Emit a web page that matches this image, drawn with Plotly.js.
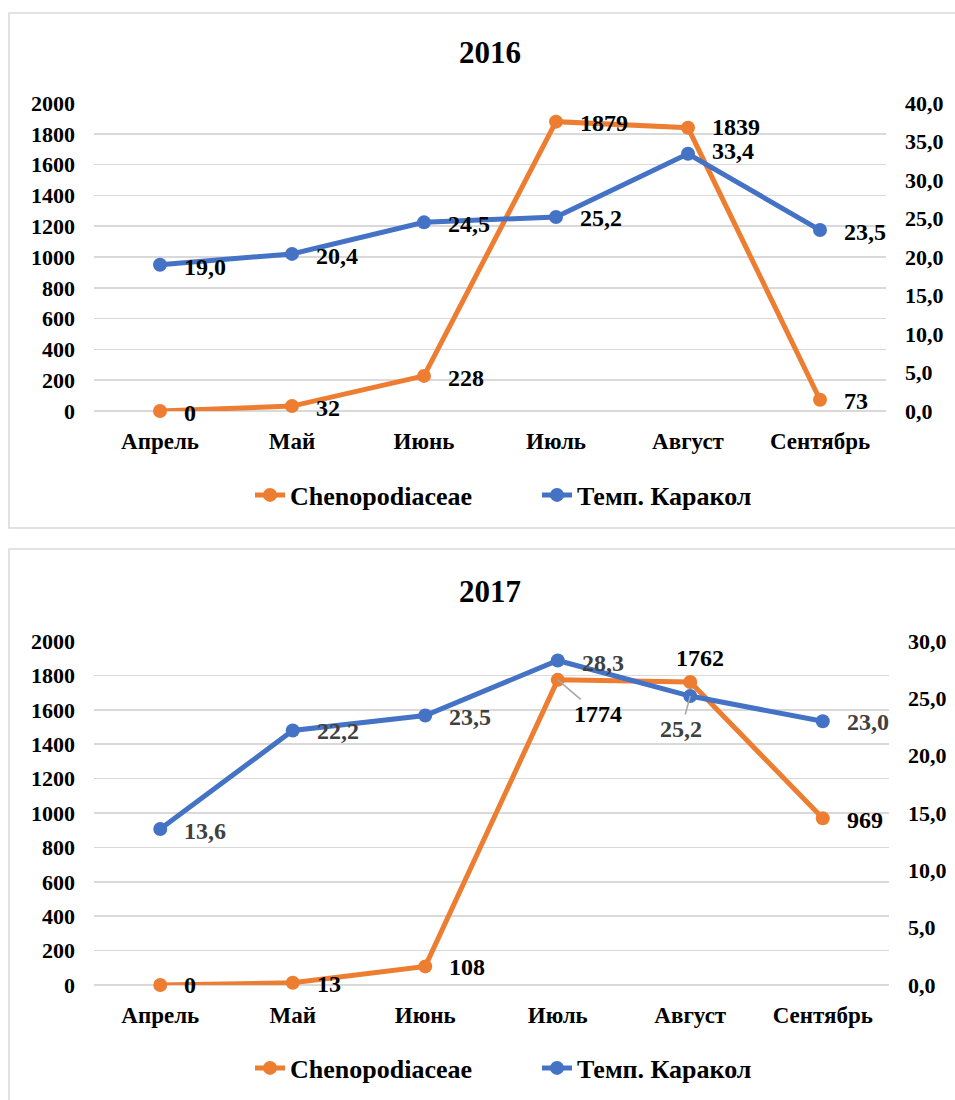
<!DOCTYPE html>
<html>
<head>
<meta charset="utf-8">
<script src="https://cdn.plot.ly/plotly-3.0.1.min.js"></script>
<style>html,body{margin:0;padding:0;background:#fff;}#chart{width:955px;height:1100px;}</style>
</head>
<body>
<div id="chart"></div>
<script>
// ---- data ----
const months = ['Апрель', 'Май', 'Июнь', 'Июль', 'Август', 'Сентябрь'];
const cheno2016 = [0, 32, 228, 1879, 1839, 73];
const temp2016 = [19.0, 20.4, 24.5, 25.2, 33.4, 23.5];
const cheno2017 = [0, 13, 108, 1774, 1762, 969];
const temp2017 = [13.6, 22.2, 23.5, 28.3, 25.2, 23.0];
const seriesNames = ['Chenopodiaceae', 'Темп. Каракол'];
const titles = ['2016', '2017'];

// ---- styles ----
const FONT = 'Liberation Serif';
const ORANGE = '#ED7D31', BLUE = '#4472C4', GRID = '#D9D9D9';
const H = 1100, W = 955;
const py = v => 1 - v / H;
const px = v => v / W;

// label placement (pixel offsets: dx right, dy down)
const R = (dy) => ({mode: 'right', dx: 22, dy: dy});
const place = {
  c16: [R(2), R(2), R(2), R(1), R(-1), R(1)],
  t16: [R(2), R(2), R(2), R(1), R(-3), R(2)],
  c17: [R(0), R(1), R(1), {mode: 'arrow', dx: 40, dy: 34}, {mode: 'center', dx: 10, dy: -24}, R(2)],
  t17: [R(2), R(1), R(1), R(3), {mode: 'arrow', dx: -9, dy: 33}, R(1)]
};

function labels(vals, fmt, xref, yref, color, pl) {
  return vals.map((v, i) => {
    const p = pl[i];
    const a = {x: months[i], y: v, xref: xref, yref: yref, text: fmt(v),
      font: {family: FONT, size: 24, color: color, weight: 'bold'}};
    if (p.mode === 'arrow') {
      Object.assign(a, {showarrow: true, ax: p.dx, ay: p.dy, arrowhead: 0,
        arrowwidth: 1.5, arrowcolor: '#A6A6A6', standoff: 0});
    } else if (p.mode === 'center') {
      Object.assign(a, {showarrow: false, xanchor: 'center', yanchor: 'middle', xshift: p.dx, yshift: -p.dy});
    } else {
      Object.assign(a, {showarrow: false, xanchor: 'left', yanchor: 'middle', xshift: p.dx, yshift: -p.dy});
    }
    return a;
  });
}
const fmtInt = v => String(v);
const fmtDec = v => v.toFixed(1).replace('.', ',');

function trace(y, name, color, xa, ya, legend) {
  return {x: months, y: y, name: name, type: 'scatter', mode: 'lines+markers',
    line: {color: color, width: 5}, marker: {color: color, size: 14},
    xaxis: xa, yaxis: ya, legend: legend, cliponaxis: false, hoverinfo: 'x+y'};
}

const data = [
  trace(cheno2016, seriesNames[0], ORANGE, 'x', 'y', 'legend'),
  trace(temp2016, seriesNames[1], BLUE, 'x', 'y2', 'legend'),
  trace(cheno2017, seriesNames[0], ORANGE, 'x2', 'y3', 'legend2'),
  trace(temp2017, seriesNames[1], BLUE, 'x2', 'y4', 'legend2')
];

const tickFont = {family: FONT, size: 22, color: '#000', weight: 'bold'};
const xFont = {family: FONT, size: 23, color: '#000', weight: 'bold'};

function xaxis(anchor, dom) {
  return {type: 'category', categoryorder: 'array', categoryarray: months, range: [-0.5, 5.5],
    domain: dom, anchor: anchor, showgrid: false, showline: false, zeroline: false,
    ticks: '', tickfont: xFont, ticklabelstandoff: 14, fixedrange: true};
}
function yleft(anchor, dom) {
  return {domain: dom, anchor: anchor, range: [0, 2000], dtick: 200, tick0: 0,
    showgrid: true, gridcolor: GRID, gridwidth: 1.5, zeroline: true, zerolinecolor: GRID, zerolinewidth: 1.5,
    showline: false, ticks: '', tickfont: tickFont, ticklabelstandoff: 18, fixedrange: true};
}
function yright(anchor, over, max) {
  return {overlaying: over, anchor: anchor, side: 'right', range: [0, max], dtick: 5, tick0: 0,
    tickformat: '.1f', showgrid: false, zeroline: false, showline: false, ticks: '',
    tickfont: tickFont, ticklabelstandoff: 18, fixedrange: true};
}

const annotations = [].concat(
  labels(cheno2016, fmtInt, 'x', 'y', '#000', place.c16),
  labels(temp2016, fmtDec, 'x', 'y2', '#000', place.t16),
  labels(cheno2017, fmtInt, 'x2', 'y3', '#000', place.c17),
  labels(temp2017, fmtDec, 'x2', 'y4', '#404040', place.t17),
  [{text: titles[1], xref: 'paper', yref: 'paper', x: px(490), y: py(591), xanchor: 'center', yanchor: 'middle',
    showarrow: false, font: {family: FONT, size: 31, color: '#000', weight: 'bold'}}]
);

const legendBase = {orientation: 'h', xanchor: 'center', yanchor: 'middle', x: px(537),
  font: {family: FONT, size: 26, color: '#000', weight: 'bold'}, entrywidth: 242, entrywidthmode: 'pixels',
  itemgap: 5, bgcolor: 'rgba(0,0,0,0)'};

const layout = {
  width: W, height: H, margin: {l: 0, r: 0, t: 0, b: 0},
  paper_bgcolor: '#fff', plot_bgcolor: '#fff', separators: ', ',
  font: {family: FONT, color: '#000', weight: 'bold'},
  title: {text: titles[0], x: px(490), xanchor: 'center', xref: 'paper', yref: 'container', y: py(52), yanchor: 'middle',
    font: {family: FONT, size: 31, color: '#000', weight: 'bold'}},
  xaxis: xaxis('y', [px(94), px(886)]),
  yaxis: yleft('x', [py(411), py(103)]),
  yaxis2: yright('x', 'y', 40),
  xaxis2: xaxis('y3', [px(94), px(889)]),
  yaxis3: yleft('x2', [py(985), py(641)]),
  yaxis4: yright('x2', 'y3', 30),
  legend: Object.assign({}, legendBase, {y: py(495)}),
  legend2: Object.assign({}, legendBase, {y: py(1068)}),
  annotations: annotations,
  shapes: [
    {type: 'rect', xref: 'paper', yref: 'paper', x0: px(9), x1: px(965), y0: py(528), y1: py(13), line: {color: GRID, width: 1.5}, layer: 'below'},
    {type: 'rect', xref: 'paper', yref: 'paper', x0: px(9), x1: px(965), y0: py(1110), y1: py(549), line: {color: GRID, width: 1.5}, layer: 'below'}
  ],
  hovermode: false
};

Plotly.newPlot('chart', data, layout, {displayModeBar: false, staticPlot: true});
</script>
</body>
</html>
